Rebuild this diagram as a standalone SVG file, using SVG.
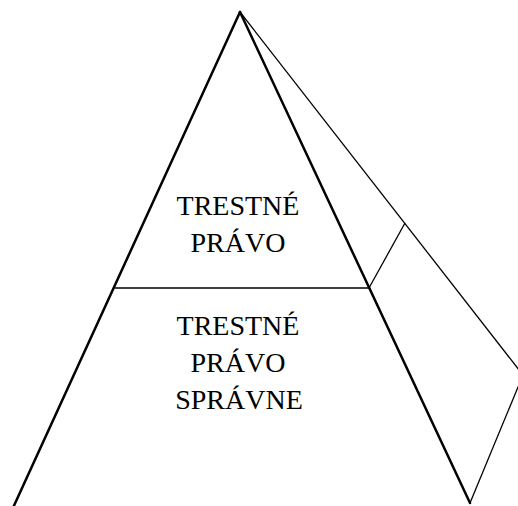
<svg xmlns="http://www.w3.org/2000/svg" width="518" height="506" viewBox="0 0 518 506">
<style>
.thick{stroke:#000;stroke-width:2.5;fill:none;stroke-linecap:round}
.thin{stroke:#000;stroke-width:1.3;fill:none}
.lbl{font-family:"Liberation Serif","Times New Roman",serif;font-size:28px;fill:#000;text-anchor:middle}
</style>
<rect width="518" height="506" fill="#fff"/>
<g id="connectors">
<line class="thin" x1="240" y1="12" x2="523" y2="375"/>
<line class="thin" x1="523" y1="375" x2="470" y2="503"/>
<line class="thin" x1="369" y1="288" x2="405" y2="223"/>
<line class="thin" x1="115" y1="288" x2="369" y2="288"/>
<line class="thick" x1="240" y1="12" x2="12" y2="510"/>
<line class="thick" x1="240" y1="12" x2="470" y2="503"/>
</g>
<g id="top">
<text class="lbl" x="238" y="215">TRESTNÉ</text>
<text class="lbl" x="238" y="252">PRÁVO</text>
</g>
<g id="bottom">
<text class="lbl" x="238" y="335">TRESTNÉ</text>
<text class="lbl" x="238" y="372">PRÁVO</text>
<text class="lbl" x="239" y="409">SPRÁVNE</text>
</g>
</svg>
